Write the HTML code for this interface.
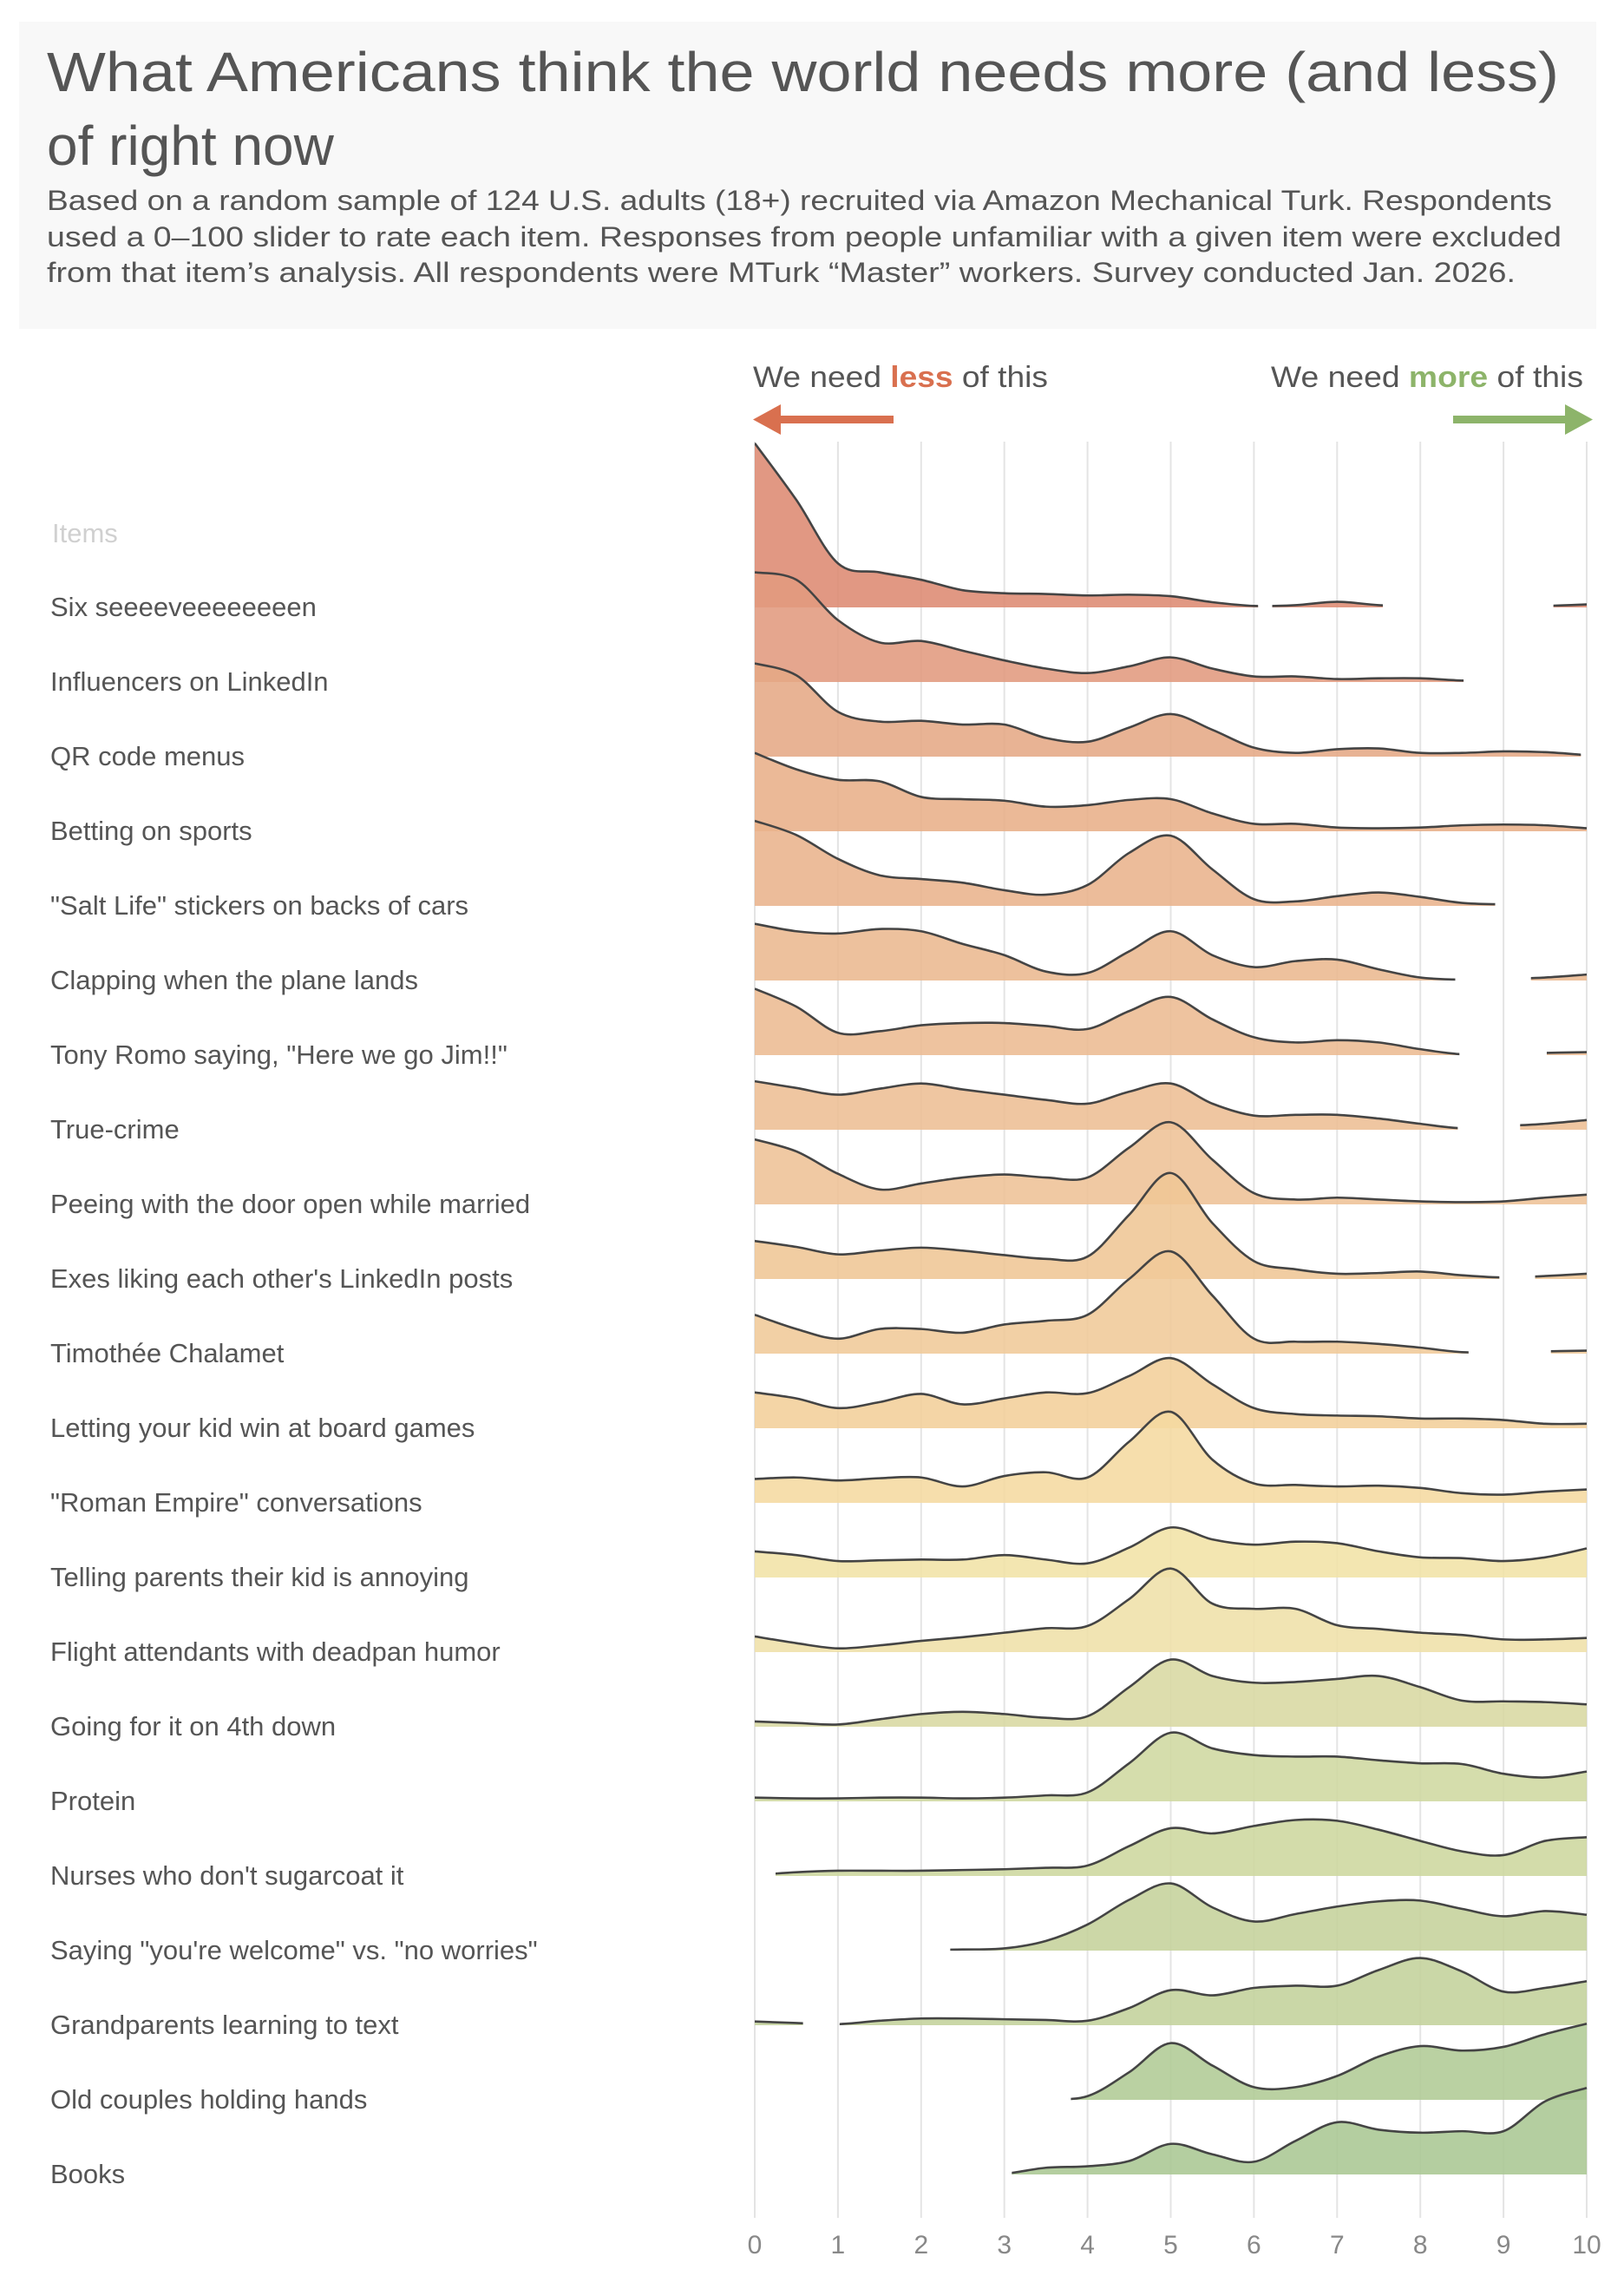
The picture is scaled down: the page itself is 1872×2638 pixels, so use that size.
<!DOCTYPE html>
<html><head><meta charset="utf-8">
<style>
html,body{margin:0;padding:0;background:#fff;}
body{width:1872px;height:2638px;overflow:hidden;font-family:"Liberation Sans",sans-serif;}
svg{display:block;}
</style></head>
<body>
<svg id="chart" width="1872" height="2638" viewBox="0 0 1872 2638" xmlns="http://www.w3.org/2000/svg">
  <rect x="22" y="25" width="1818" height="354" fill="#f8f8f8"/>
  <text x="54" y="105" font-size="64" fill="#555" textLength="1743" lengthAdjust="spacingAndGlyphs">What Americans think the world needs more (and less)</text>
  <text x="54" y="190" font-size="64" fill="#555">of right now</text>
  <g font-size="32" fill="#555">
    <text x="54" y="242" textLength="1735" lengthAdjust="spacingAndGlyphs">Based on a random sample of 124 U.S. adults (18+) recruited via Amazon Mechanical Turk. Respondents</text>
    <text x="54" y="284" textLength="1746" lengthAdjust="spacingAndGlyphs">used a 0–100 slider to rate each item. Responses from people unfamiliar with a given item were excluded</text>
    <text x="54" y="325" textLength="1693" lengthAdjust="spacingAndGlyphs">from that item’s analysis. All respondents were MTurk “Master” workers. Survey conducted Jan. 2026.</text>
  </g>
  <text x="868" y="446" font-size="34" fill="#555" textLength="340" lengthAdjust="spacingAndGlyphs">We need <tspan fill="#d9704f" font-weight="bold">less</tspan> of this</text>
  <text x="1465" y="446" font-size="34" fill="#555" textLength="360" lengthAdjust="spacingAndGlyphs">We need <tspan fill="#8db46a" font-weight="bold">more</tspan> of this</text>
  <g fill="#d9704f">
    <rect x="895" y="479" width="135" height="9"/>
    <polygon points="868,483.5 900,466 900,501"/>
  </g>
  <g fill="#8db46a">
    <rect x="1675" y="479" width="135" height="9"/>
    <polygon points="1836,483.5 1804,466 1804,501"/>
  </g>
  <text x="60" y="625" font-size="31" fill="#d0d0d0">Items</text>
  <g id="grid"></g>
  <g id="ridges"></g>
  <g id="labels"></g>
  <g id="ticks"></g>
  <defs id="defs"></defs>
</svg>
<script>
const items = ["Six seeeeveeeeeeeen","Influencers on LinkedIn","QR code menus","Betting on sports","\"Salt Life\" stickers on backs of cars","Clapping when the plane lands","Tony Romo saying, \"Here we go Jim!!\"","True-crime","Peeing with the door open while married","Exes liking each other's LinkedIn posts","Timothée Chalamet","Letting your kid win at board games","\"Roman Empire\" conversations","Telling parents their kid is annoying","Flight attendants with deadpan humor","Going for it on 4th down","Protein","Nurses who don't sugarcoat it","Saying \"you're welcome\" vs. \"no worries\"","Grandparents learning to text","Old couples holding hands","Books"];
const xTicks = [0,1,2,3,4,5,6,7,8,9,10];
const gridX = [0,0.5,1,1.5,2,2.5,3,3.5,4,4.5,5,5.5,6,6.5,7,7.5,8,8.5,9,9.5,10];
const densities = [
 [2.2,1.44,0.59,0.47,0.37,0.23,0.19,0.18,0.16,0.17,0.15,0.07,0.02,0.03,0.075,0.03,0.01,0.01,0.01,0.02,0.04],
 [1.47,1.37,0.83,0.53,0.55,0.42,0.29,0.18,0.12,0.21,0.33,0.18,0.075,0.075,0.04,0.05,0.05,0.02,0.01,0.01,0.01],
 [1.25,1.09,0.6,0.47,0.48,0.43,0.43,0.25,0.2,0.39,0.57,0.36,0.12,0.05,0.1,0.11,0.05,0.05,0.07,0.06,0.02],
 [1.05,0.83,0.69,0.67,0.46,0.43,0.41,0.33,0.35,0.42,0.43,0.24,0.1,0.1,0.05,0.04,0.05,0.08,0.09,0.08,0.04],
 [1.14,0.95,0.63,0.41,0.36,0.31,0.21,0.15,0.28,0.71,0.94,0.49,0.09,0.06,0.13,0.18,0.12,0.04,0.02,0.01,0.01],
 [0.76,0.66,0.63,0.69,0.66,0.49,0.34,0.12,0.1,0.39,0.66,0.34,0.18,0.26,0.28,0.15,0.04,0.01,0.02,0.04,0.08],
 [0.89,0.65,0.30,0.32,0.40,0.43,0.43,0.39,0.35,0.59,0.78,0.48,0.24,0.17,0.2,0.17,0.08,0.01,0.02,0.03,0.04],
 [0.65,0.56,0.47,0.55,0.62,0.54,0.47,0.40,0.35,0.51,0.62,0.35,0.19,0.2,0.2,0.15,0.08,0.02,0.05,0.08,0.13],
 [0.87,0.71,0.41,0.2,0.28,0.36,0.4,0.36,0.36,0.76,1.1,0.6,0.15,0.065,0.09,0.065,0.04,0.03,0.04,0.09,0.13],
 [0.51,0.43,0.33,0.38,0.42,0.38,0.32,0.27,0.3,0.86,1.42,0.75,0.24,0.13,0.07,0.08,0.1,0.05,0.02,0.04,0.07],
 [0.52,0.33,0.2,0.33,0.33,0.28,0.39,0.44,0.52,1.0,1.37,0.78,0.2,0.16,0.16,0.13,0.08,0.02,0.02,0.03,0.04],
 [0.48,0.4,0.27,0.35,0.46,0.32,0.4,0.48,0.47,0.7,0.94,0.59,0.27,0.19,0.17,0.16,0.13,0.13,0.11,0.06,0.06],
 [0.32,0.34,0.3,0.33,0.34,0.22,0.36,0.41,0.34,0.82,1.22,0.58,0.26,0.24,0.22,0.23,0.2,0.13,0.11,0.15,0.18],
 [0.35,0.30,0.22,0.23,0.24,0.24,0.3,0.24,0.19,0.4,0.67,0.51,0.44,0.48,0.46,0.35,0.27,0.26,0.22,0.27,0.39],
 [0.21,0.12,0.05,0.09,0.15,0.2,0.26,0.32,0.35,0.71,1.12,0.65,0.58,0.58,0.36,0.31,0.26,0.23,0.17,0.17,0.19],
 [0.07,0.05,0.03,0.1,0.17,0.2,0.17,0.12,0.14,0.53,0.9,0.68,0.59,0.6,0.64,0.68,0.53,0.35,0.34,0.33,0.3],
 [0.05,0.04,0.04,0.05,0.05,0.04,0.05,0.08,0.12,0.51,0.92,0.71,0.62,0.6,0.6,0.55,0.51,0.5,0.37,0.32,0.4],
 [0.01,0.05,0.07,0.07,0.07,0.08,0.09,0.11,0.14,0.4,0.64,0.57,0.67,0.75,0.74,0.62,0.47,0.33,0.28,0.47,0.52],
 [0.01,0.01,0.01,0.01,0.01,0.015,0.03,0.13,0.35,0.68,0.9,0.58,0.39,0.49,0.59,0.66,0.67,0.56,0.46,0.53,0.48],
 [0.05,0.03,0.015,0.06,0.09,0.09,0.08,0.07,0.06,0.23,0.47,0.4,0.5,0.53,0.53,0.74,0.9,0.72,0.45,0.5,0.59],
 [0.01,0.01,0.01,0.01,0.01,0.01,0.01,0.01,0.05,0.37,0.76,0.46,0.17,0.17,0.32,0.58,0.72,0.66,0.71,0.88,1.02],
 [0.01,0.01,0.01,0.01,0.01,0.01,0.01,0.09,0.11,0.18,0.41,0.27,0.17,0.45,0.7,0.6,0.56,0.58,0.58,0.98,1.16]
];
const gaps = [
 [[6.05,6.22],[7.55,9.6]],[[8.52,10]],[[9.93,10]],[],[[8.9,10]],[[8.42,9.33]],[[8.47,9.52]],[[8.45,9.2]],[],[[8.95,9.38]],[[8.58,9.57]],[],[],[],[],[],[],[[0,0.25]],[[0,2.35]],[[0.58,1.02]],[[0,3.8]],[[0,3.09]]
];
const colors = ["#dd8a72","#e19a7e","#e5a985","#e8af89","#e9b38c","#ebb890","#ecbb92","#edbe94","#eec196","#efc695","#f0ca98","#f2cf9a","#f5d9a0","#f1e3a6","#efe0a8","#d8d8a2","#cfd8a0","#cdd79e","#c5d29b","#c3d29b","#b1cb95","#aac793"];

const NS = "http://www.w3.org/2000/svg";
const X0 = 870, X1 = 1829, Y_FIRST = 700, ROW = 86, H = 86;
const xScale = v => X0 + (X1 - X0) * v / 10;
const baseY = i => Y_FIRST + i * ROW;
function mk(tag, attrs, parent){ const e = document.createElementNS(NS, tag); for (const k in attrs) e.setAttribute(k, attrs[k]); parent.appendChild(e); return e; }

const grid = document.getElementById('grid');
const ticks = document.getElementById('ticks');
xTicks.forEach(t => {
  const ln = mk('line', {x1: xScale(t), x2: xScale(t), y1: 509, y2: 2556, stroke: '#e4e4e4', 'stroke-width': 2}, grid);
  
  
  const tx = mk('text', {x: xScale(t), y: 2597, 'font-size': 30, fill: '#888', 'text-anchor': 'middle'}, ticks);
  tx.textContent = String(t);
  
  
});

function curvePath(pts){
  let d = `M${pts[0][0]},${pts[0][1]}`;
  for (let i = 0; i < pts.length - 1; i++){
    const p0 = pts[Math.max(0, i-1)], p1 = pts[i], p2 = pts[i+1], p3 = pts[Math.min(pts.length-1, i+2)];
    const c1x = p1[0] + (p2[0]-p0[0])/6, c1y = p1[1] + (p2[1]-p0[1])/6;
    const c2x = p2[0] - (p3[0]-p1[0])/6, c2y = p2[1] - (p3[1]-p1[1])/6;
    d += ` C${c1x},${c1y} ${c2x},${c2y} ${p2[0]},${p2[1]}`;
  }
  return d;
}

const ridges = document.getElementById('ridges');
const labels = document.getElementById('labels');
const defs = document.getElementById('defs');
items.forEach((name, i) => {
  const b = baseY(i);
  const pts = gridX.map((x, j) => [xScale(x), Math.min(b - 1, b - densities[i][j] * H)]);
  const line = curvePath(pts);
  const cp = mk('clipPath', {id: 'clip' + i}, defs);
  let start = 0;
  const gs = gaps[i].slice().sort((a, c) => a[0] - c[0]);
  const segs = [];
  gs.forEach(g => { if (g[0] > start) segs.push([start, g[0]]); start = Math.max(start, g[1]); });
  if (start < 10) segs.push([start, 10]);
  segs.forEach(s => mk('rect', {x: xScale(s[0]), y: b - 300, width: xScale(s[1]) - xScale(s[0]) + (s[1] >= 10 ? 2 : 0), height: 302}, cp));
  const g = mk('g', {'clip-path': `url(#clip${i})`}, ridges);
  
  
  const area = mk('path', {d: line + ` L${xScale(10)},${b} L${xScale(0)},${b} Z`, fill: colors[i], 'fill-opacity': 0.88}, g);
  
  
  const stroke = mk('path', {d: line, fill: 'none', stroke: '#444', 'stroke-width': 2.6, 'stroke-linejoin': 'round'}, g);
  
  
  const lb = mk('text', {x: 58, y: b + 10, 'font-size': 31, fill: '#555'}, labels);
  lb.textContent = name;
  
  
});
</script>
</body></html>
